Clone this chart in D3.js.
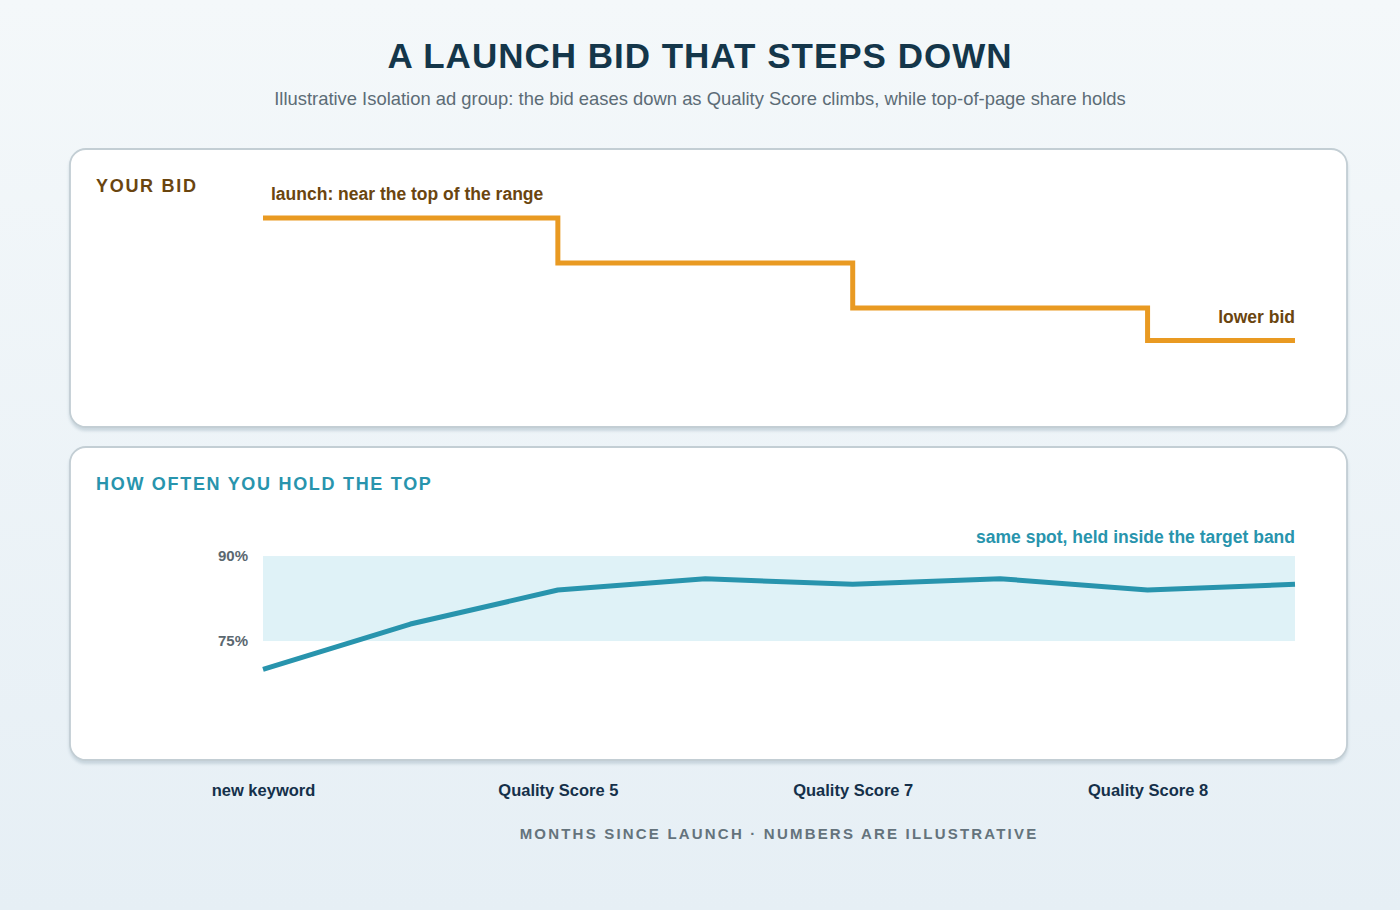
<!DOCTYPE html>
<html>
<head>
<meta charset="utf-8">
<script src="https://cdn.jsdelivr.net/npm/d3@7"></script>
<style>
  html, body { margin: 0; padding: 0; }
  body {
    width: 1400px; height: 910px; overflow: hidden;
    background: linear-gradient(to bottom, #f4f8fa 0%, #e6eff5 100%);
    font-family: "Liberation Sans", Arial, Helvetica, sans-serif;
  }
</style>
</head>
<body>
<svg id="chart"></svg>
<script>
// months since launch, 0..7
const months = [0, 1, 2, 3, 4, 5, 6, 7];
// bid level (illustrative units), one value per month
const bidValues = [1.80, 1.80, 1.55, 1.55, 1.30, 1.30, 1.12, 1.12];
// top-of-page share (%), one value per month
const topShare = [70, 78, 84, 86, 85, 86, 84, 85];
// target band for top-of-page share
const targetBand = [75, 90];
const shareTicks = [75, 90];
// x axis milestone labels
const milestoneMonths = [0, 2, 4, 6];
const milestoneLabels = ['new keyword', 'Quality Score 5', 'Quality Score 7', 'Quality Score 8'];

const W = 1400, H = 910;
const svg = d3.select('#chart')
  .attr('width', W)
  .attr('height', H);

const colors = {
  title: '#14364a',
  subtitle: '#5c6c76',
  bid: '#e99a22',
  bidText: '#6a450f',
  share: '#2894ad',
  band: '#dff2f7',
  tick: '#5b6870',
  axis: '#15304a',
  foot: '#64737c',
  border: '#c3ced4'
};

// shared x scale
const x = d3.scaleLinear()
  .domain(d3.extent(months))
  .range([263, 1295]);

// title
svg.append('text')
  .attr('x', W / 2).attr('y', 68)
  .attr('text-anchor', 'middle')
  .attr('font-size', 35).attr('font-weight', 700)
  .attr('letter-spacing', 1)
  .attr('fill', colors.title)
  .text('A LAUNCH BID THAT STEPS DOWN');

svg.append('text')
  .attr('x', W / 2).attr('y', 105)
  .attr('text-anchor', 'middle')
  .attr('font-size', 18.4)
  .attr('fill', colors.subtitle)
  .text('Illustrative Isolation ad group: the bid eases down as Quality Score climbs, while top-of-page share holds');

// panels
const defs = svg.append('defs');
const shadow = defs.append('filter').attr('id', 'shadow')
  .attr('x', '-5%').attr('y', '-5%').attr('width', '110%').attr('height', '115%');
shadow.append('feDropShadow')
  .attr('dx', 0).attr('dy', 3).attr('stdDeviation', 1.5)
  .attr('flood-color', '#9fb3bf').attr('flood-opacity', 0.45);

function panel(y0, y1) {
  svg.append('rect')
    .attr('x', 70).attr('y', y0)
    .attr('width', 1277).attr('height', y1 - y0)
    .attr('rx', 16).attr('ry', 16)
    .attr('fill', '#fff')
    .attr('stroke', colors.border)
    .attr('stroke-width', 1.8)
    .attr('filter', 'url(#shadow)');
}
panel(149, 427);
panel(447, 760);

// Panel 1: bid
svg.append('text')
  .attr('x', 96).attr('y', 192)
  .attr('font-size', 18).attr('font-weight', 700)
  .attr('letter-spacing', 1.7)
  .attr('fill', colors.bidText)
  .text('YOUR BID');

const yBid = d3.scaleLinear()
  .domain([0.9, 2.0])
  .range([380, 182]);

const bidLine = d3.line()
  .x((d, i) => x(months[i]))
  .y((d) => yBid(d))
  .curve(d3.curveStepAfter);

svg.append('path')
  .datum(bidValues)
  .attr('fill', 'none')
  .attr('stroke', colors.bid)
  .attr('stroke-width', 5)
  .attr('d', bidLine);

svg.append('text')
  .attr('x', x(0) + 8).attr('y', yBid(bidValues[0]) - 18)
  .attr('font-size', 17.5).attr('font-weight', 700)
  .attr('fill', colors.bidText)
  .text('launch: near the top of the range');

svg.append('text')
  .attr('x', x(months[months.length - 1])).attr('y', yBid(bidValues[bidValues.length - 1]) - 17)
  .attr('text-anchor', 'end')
  .attr('font-size', 17.5).attr('font-weight', 700)
  .attr('fill', colors.bidText)
  .text('lower bid');

// Panel 2: top-of-page share
svg.append('text')
  .attr('x', 96).attr('y', 490)
  .attr('font-size', 18).attr('font-weight', 700)
  .attr('letter-spacing', 1.7)
  .attr('fill', colors.share)
  .text('HOW OFTEN YOU HOLD THE TOP');

const yShare = d3.scaleLinear()
  .domain([65, 95])
  .range([697.7, 527.7]);

svg.append('rect')
  .attr('x', x(0))
  .attr('y', yShare(targetBand[1]))
  .attr('width', x(7) - x(0))
  .attr('height', yShare(targetBand[0]) - yShare(targetBand[1]))
  .attr('fill', colors.band);

const yAxis = svg.append('g')
  .attr('transform', `translate(${x(0)}, 0)`)
  .call(d3.axisLeft(yShare)
    .tickValues(shareTicks)
    .tickFormat((d) => d + '%')
    .tickSize(0)
    .tickPadding(15));
yAxis.select('.domain').remove();
yAxis.selectAll('text')
  .attr('font-family', 'Liberation Sans, Arial, sans-serif')
  .attr('font-size', 15).attr('font-weight', 700)
  .attr('fill', colors.tick);

const shareLine = d3.line()
  .x((d, i) => x(months[i]))
  .y((d) => yShare(d));

svg.append('path')
  .datum(topShare)
  .attr('fill', 'none')
  .attr('stroke', colors.share)
  .attr('stroke-width', 5)
  .attr('stroke-linejoin', 'round')
  .attr('d', shareLine);

svg.append('text')
  .attr('x', x(7)).attr('y', yShare(targetBand[1]) - 13)
  .attr('text-anchor', 'end')
  .attr('font-size', 17.5).attr('font-weight', 700)
  .attr('fill', colors.share)
  .text('same spot, held inside the target band');

// X axis milestones
const xAxis = svg.append('g')
  .attr('transform', 'translate(0, 775)')
  .call(d3.axisBottom(x)
    .tickValues(milestoneMonths)
    .tickFormat((d) => milestoneLabels[milestoneMonths.indexOf(d)])
    .tickSize(0)
    .tickPadding(9));
xAxis.select('.domain').remove();
xAxis.selectAll('text')
  .attr('font-family', 'Liberation Sans, Arial, sans-serif')
  .attr('font-size', 16.5).attr('font-weight', 700)
  .attr('fill', colors.axis);

svg.append('text')
  .attr('x', (x(0) + x(7)) / 2).attr('y', 839)
  .attr('text-anchor', 'middle')
  .attr('font-size', 15).attr('font-weight', 700)
  .attr('letter-spacing', 2.2)
  .attr('fill', colors.foot)
  .text('MONTHS SINCE LAUNCH · NUMBERS ARE ILLUSTRATIVE');
</script>
</body>
</html>
